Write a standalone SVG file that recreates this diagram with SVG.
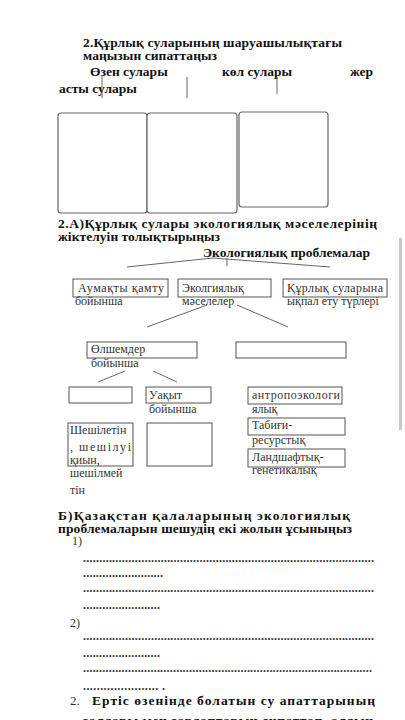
<svg xmlns="http://www.w3.org/2000/svg" width="405" height="720" viewBox="0 0 405 720">
<style>
text{font-family:"Liberation Serif","DejaVu Serif",serif;fill:#111}
.b{font-weight:bold;font-size:13.5px}
.n{font-size:12px;fill:#333}
.d{font-size:12px;font-weight:bold;fill:#333}
.box{fill:#fff;stroke:#555;stroke-width:1}
.big{fill:#fff;stroke:#666;stroke-width:1.2}
.ln{stroke:#666;stroke-width:1;fill:none}
</style>
<rect width="405" height="720" fill="#fff"/>
<rect x="399" y="238" width="3" height="192" fill="#c8c8c8"/>

<g id="title1">
<text class="b" x="83" y="47" textLength="259" lengthAdjust="spacing">2.Құрлық суларының  шаруашылықтағы</text>
<text class="b" x="83" y="59.5" textLength="134" lengthAdjust="spacing">маңызын сипаттаңыз</text>
<text class="b" x="90" y="76">Өзен сулары</text>
<text class="b" x="222" y="76">көл сулары</text>
<text class="b" x="350" y="76">жер</text>
<text class="b" x="59" y="93">асты сулары</text>
</g>

<g id="connectors">
<line class="ln" x1="102" y1="76" x2="102" y2="98"/>
<line class="ln" x1="187" y1="77" x2="187" y2="98"/>
<line class="ln" x1="277" y1="77" x2="277" y2="94"/>
<polyline class="ln" points="127,267 213,258 330,267"/>
<line class="ln" x1="227" y1="258" x2="227" y2="266"/>
<line class="ln" x1="207" y1="305" x2="147" y2="327"/>
<line class="ln" x1="237" y1="305" x2="288" y2="327"/>
<line class="ln" x1="98" y1="382" x2="125" y2="371"/>
<line class="ln" x1="153" y1="371" x2="177" y2="382"/>
</g>

<g id="box-river"><rect class="big" x="58" y="113" width="89" height="100" rx="3"/></g>
<g id="box-lake"><rect class="big" x="147" y="113" width="90" height="100" rx="3"/></g>
<g id="box-ground"><rect class="big" x="239" y="112" width="89" height="95" rx="3"/></g>

<g id="title2">
<text class="b" x="58" y="228" textLength="319" lengthAdjust="spacing">2.А)Құрлық  сулары  экологиялық  мәселелерінің</text>
<text class="b" x="58" y="241" textLength="162" lengthAdjust="spacing">жіктелуін толықтырыңыз</text>
</g>
<g id="root"><text class="b" x="203" y="257" textLength="167" lengthAdjust="spacing">Экологиялық проблемалар</text></g>

<g id="n-aumak">
<rect class="box" x="73" y="279" width="95" height="18"/>
<text class="n" x="78" y="292" textLength="86" lengthAdjust="spacing">Аумақты   қамту</text>
<text class="n" x="75" y="304.5">бойынша</text>
</g>
<g id="n-ekol">
<rect class="box" x="178" y="279" width="93" height="18"/>
<text class="n" x="182" y="292">Эколгиялық</text>
<text class="n" x="182" y="304.5">мәселелер</text>
</g>
<g id="n-kurlyk">
<rect class="box" x="283" y="279" width="104" height="18"/>
<text class="n" x="287" y="292" textLength="96" lengthAdjust="spacing">Құрлық  суларына</text>
<text class="n" x="287" y="304.5">ықпал ету түрлері</text>
</g>

<g id="n-olshem">
<rect class="box" x="87" y="342" width="110" height="16"/>
<text class="n" x="91" y="353">Өлшемдер</text>
<text class="n" x="91" y="367">бойынша</text>
</g>
<g id="n-empty1"><rect class="box" x="236" y="342" width="110" height="16"/></g>

<g id="n-empty2"><rect class="box" x="69" y="387" width="63" height="16"/></g>
<g id="n-uakyt">
<rect class="box" x="146" y="387" width="65" height="16"/>
<text class="n" x="149" y="399">Уақыт</text>
<text class="n" x="149" y="413">бойынша</text>
</g>
<g id="n-antropo">
<rect class="box" x="248" y="387" width="94" height="17"/>
<text class="n" x="252" y="399" textLength="88" lengthAdjust="spacing">антропоэкологи</text>
<text class="n" x="252" y="413">ялық</text>
</g>

<g id="n-sheshil">
<rect class="box" x="68" y="423" width="65" height="43"/>
<text class="n" x="70" y="434">Шешілетін</text>
<text class="n" x="70" y="451" textLength="61" lengthAdjust="spacing">,   шешілуі</text>
<text class="n" x="70" y="464">қиын,</text>
<text class="n" x="70" y="477">шешілмей</text>
<text class="n" x="70" y="494">тін</text>
</g>
<g id="n-empty3"><rect class="box" x="147" y="423" width="65" height="43"/></g>
<g id="n-tabigi">
<rect class="box" x="248" y="418" width="97" height="17"/>
<text class="n" x="252" y="429">Табиғи-</text>
<text class="n" x="252" y="444">ресурстық</text>
</g>
<g id="n-landshaft">
<rect class="box" x="248" y="449" width="97" height="18"/>
<text class="n" x="252" y="461">Ландшафтық-</text>
<text class="n" x="252" y="474">генетикалық</text>
</g>

<g id="partB">
<text class="b" x="58" y="520" textLength="292" lengthAdjust="spacing">Б)Қазақстан    қалаларының    экологиялық</text>
<text class="b" x="58" y="532.5" textLength="294" lengthAdjust="spacing">проблемаларын шешудің  екі жолын ұсыныңыз</text>
<text class="n" x="72" y="545">1)</text>
<text class="d" x="83" y="562" textLength="291" lengthAdjust="spacing">..........................................................................................</text>
<text class="d" x="83" y="577" textLength="80" lengthAdjust="spacing">.........................</text>
<text class="d" x="83" y="592" textLength="291" lengthAdjust="spacing">..........................................................................................</text>
<text class="d" x="83" y="609" textLength="77" lengthAdjust="spacing">........................</text>
<text class="n" x="70" y="627">2)</text>
<text class="d" x="83" y="640" textLength="291" lengthAdjust="spacing">..........................................................................................</text>
<text class="d" x="83" y="657" textLength="77" lengthAdjust="spacing">........................</text>
<text class="d" x="83" y="672" textLength="289" lengthAdjust="spacing">..........................................................................................</text>
<text class="d" x="83" y="690" textLength="82" lengthAdjust="spacing">...................... .</text>
</g>

<g id="q2">
<text class="n" x="70" y="705" style="font-size:13px">2.</text>
<text class="b" x="92" y="705" textLength="283" lengthAdjust="spacing">Ертіс  өзенінде  болатын  су  апаттарының</text>
<text class="b" x="82" y="725" textLength="291" lengthAdjust="spacing">салдары мен зардаптарын сипаттап,  алдын</text>
</g>
</svg>
